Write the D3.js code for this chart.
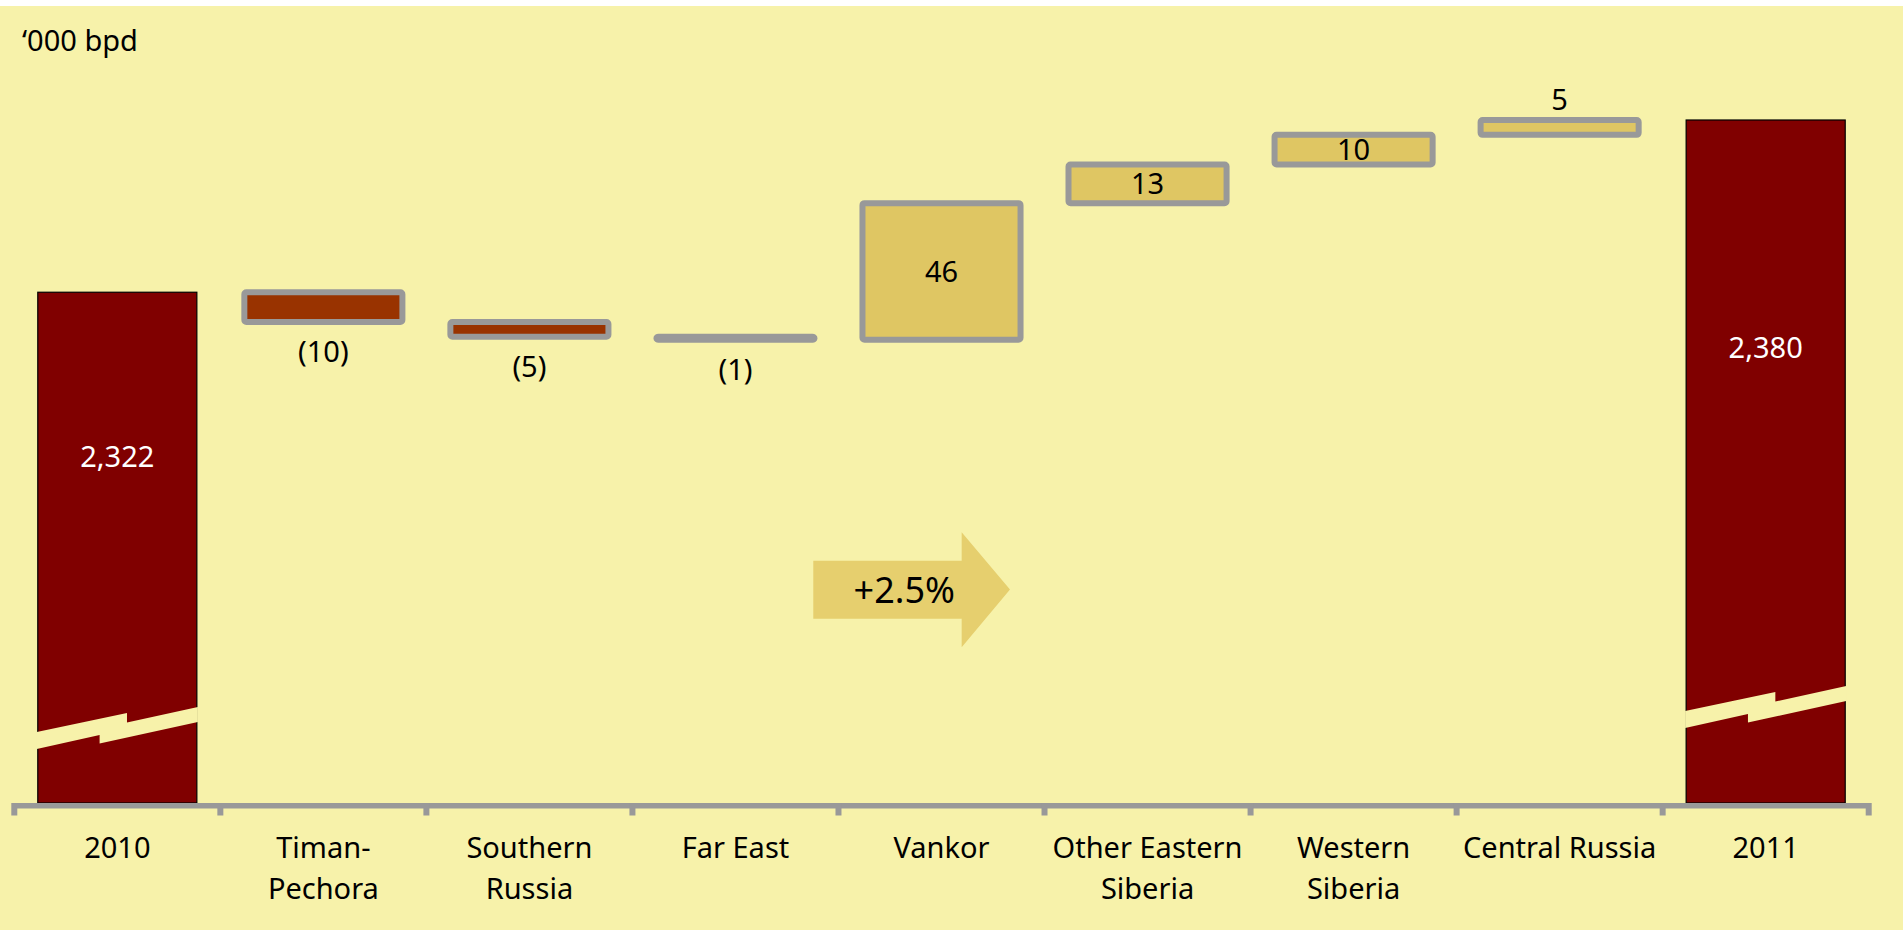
<!DOCTYPE html>
<html>
<head>
<meta charset="utf-8">
<script src="https://cdn.jsdelivr.net/npm/d3@7"></script>
<style>
  html, body { margin: 0; padding: 0; background: #fff; }
  svg { display: block; }
  text { font-family: "Noto Sans", "Open Sans", sans-serif; }
</style>
</head>
<body>
<div id="chart"></div>
<script>
/* ---- data ('000 bpd) ---- */
const categories = ['2010', 'Timan-\nPechora', 'Southern\nRussia', 'Far East', 'Vankor',
                    'Other Eastern\nSiberia', 'Western\nSiberia', 'Central Russia', '2011'];
const kinds   = ['total', 'delta', 'delta', 'delta', 'delta', 'delta', 'delta', 'delta', 'total'];
const values  = [2322, -10, -5, -1, 46, 13, 10, 5, 2380];
const labels  = ['2,322', '(10)', '(5)', '(1)', '46', '13', '10', '5', '2,380'];
const unitLabel = '\u2018000 bpd';
const growthLabel = '+2.5%';
const axisMin = 2150;   // broken axis: bars start from here
const axisMax = 2380;

const W = 1903, H = 930;
const C = { bg: '#F7F2AA', total: '#800000', neg: '#993300', pos: '#DFC663', edge: '#999999', arrow: '#E6CF6E' };

/* ---- running waterfall ---- */
let run = 0;
const rows = categories.map((c, i) => {
  let lo, hi;
  if (kinds[i] === 'total') { lo = axisMin; hi = values[i]; run = values[i]; }
  else { const a = run, b = run + values[i]; lo = Math.min(a, b); hi = Math.max(a, b); run = b; }
  return { cat: c, kind: kinds[i], v: values[i], lo, hi, label: labels[i], i };
});

const svg = d3.select('#chart').append('svg').attr('width', W).attr('height', H);
svg.append('rect').attr('x', 0).attr('y', 6).attr('width', W).attr('height', H - 6).attr('fill', C.bg);

const x = d3.scaleBand().domain(categories).range([14.3, 1868.7]).padding(0);
const y = d3.scaleLinear().domain([axisMin, axisMax]).range([803, 120]);
const bw = x.bandwidth() * 0.772;
const bx = d => x(d.cat) + (x.bandwidth() - bw) / 2;

/* unit label */
svg.append('text').attr('x', 22).attr('y', 51).attr('font-size', 29).attr('fill', '#000').text(unitLabel);

/* totals */
const totals = rows.filter(d => d.kind === 'total');
svg.append('g').selectAll('rect').data(totals).join('rect')
  .attr('x', bx).attr('y', d => y(d.hi)).attr('width', bw).attr('height', d => y(d.lo) - y(d.hi))
  .attr('fill', C.total).attr('stroke', '#000').attr('stroke-width', 1.2);

/* break marks on the totals */
const breakLift = [71, 92];
svg.append('g').selectAll('path').data(totals).join('path')
  .attr('d', (d, k) => {
    const x0 = bx(d) - 1, y0 = y(d.lo) - breakLift[k], w = bw + 2;
    const s = 0.56; // step position as share of width
    const pts = [
      [x0, y0], [x0 + w * s, y0 - 19], [x0 + w * s, y0 - 9.5], [x0 + w, y0 - 25],
      [x0 + w, y0 - 10], [x0 + w * 0.39, y0 + 11.5], [x0 + w * 0.39, y0 + 3], [x0, y0 + 17]
    ];
    return 'M' + pts.map(p => p.join(',')).join('L') + 'Z';
  })
  .attr('fill', C.bg);

svg.append('g').selectAll('text').data(totals).join('text')
  .attr('x', d => bx(d) + bw / 2)
  .attr('y', d => { const h = y(d.lo) - y(d.hi); return y(d.hi) + h * 0.367 - 22.7 + 10.5; })
  .attr('text-anchor', 'middle').attr('font-size', 29).attr('fill', '#fff')
  .text(d => d.label);

/* deltas */
const deltas = rows.filter(d => d.kind === 'delta');
svg.append('g').selectAll('rect').data(deltas).join('rect')
  .attr('x', d => bx(d) + 0.5).attr('y', d => y(d.hi)).attr('width', bw - 1)
  .attr('height', d => y(d.lo) - y(d.hi))
  .attr('rx', 2)
  .attr('fill', d => d.v < 0 ? C.neg : C.pos)
  .attr('stroke', C.edge).attr('stroke-width', 6);

svg.append('g').selectAll('text').data(deltas).join('text')
  .attr('x', d => bx(d) + bw / 2)
  .attr('y', d => {
    const h = y(d.lo) - y(d.hi);
    if (d.v < 0) return y(d.lo) + 30 + 10.5;
    if (h < 20) return y(d.hi) - 21 + 10.5;
    return y(d.hi) + h / 2 + 10.5;
  })
  .attr('text-anchor', 'middle').attr('font-size', 29).attr('fill', '#000')
  .text(d => d.label);

/* x axis */
const ax = svg.append('g');
ax.append('line').attr('x1', x.range()[0]).attr('x2', x.range()[1]).attr('y1', 805.8).attr('y2', 805.8)
  .attr('stroke', C.edge).attr('stroke-width', 5.5);
const ticks = categories.map(c => x(c)).concat([x.range()[1]]);
ax.selectAll('line.tick').data(ticks).join('line').attr('class', 'tick')
  .attr('x1', d => d).attr('x2', d => d).attr('y1', 803).attr('y2', 815.5)
  .attr('stroke', C.edge).attr('stroke-width', 6);

ax.selectAll('text').data(categories).join('text')
  .attr('text-anchor', 'middle').attr('font-size', 29).attr('fill', '#000')
  .each(function (c) {
    const t = d3.select(this);
    c.split('\n').forEach((line, k) => {
      t.append('tspan').attr('x', x(c) + x.bandwidth() / 2).attr('y', 857.5 + k * 41).text(line);
    });
  });

/* growth arrow between Far East and Vankor */
const ax0 = x('Vankor') - 25.2, ay = 589.5;
svg.append('path')
  .attr('d', `M${ax0},${ay - 28.8}L${ax0 + 148.4},${ay - 28.8}L${ax0 + 148.4},${ay - 57.2}L${ax0 + 196.7},${ay}` +
             `L${ax0 + 148.4},${ay + 57.8}L${ax0 + 148.4},${ay + 29.2}L${ax0},${ay + 29.2}Z`)
  .attr('fill', C.arrow);
svg.append('text').attr('x', ax0 + 91).attr('y', ay + 13.5)
  .attr('text-anchor', 'middle').attr('font-size', 36).attr('fill', '#000').text(growthLabel);
</script>
</body>
</html>
